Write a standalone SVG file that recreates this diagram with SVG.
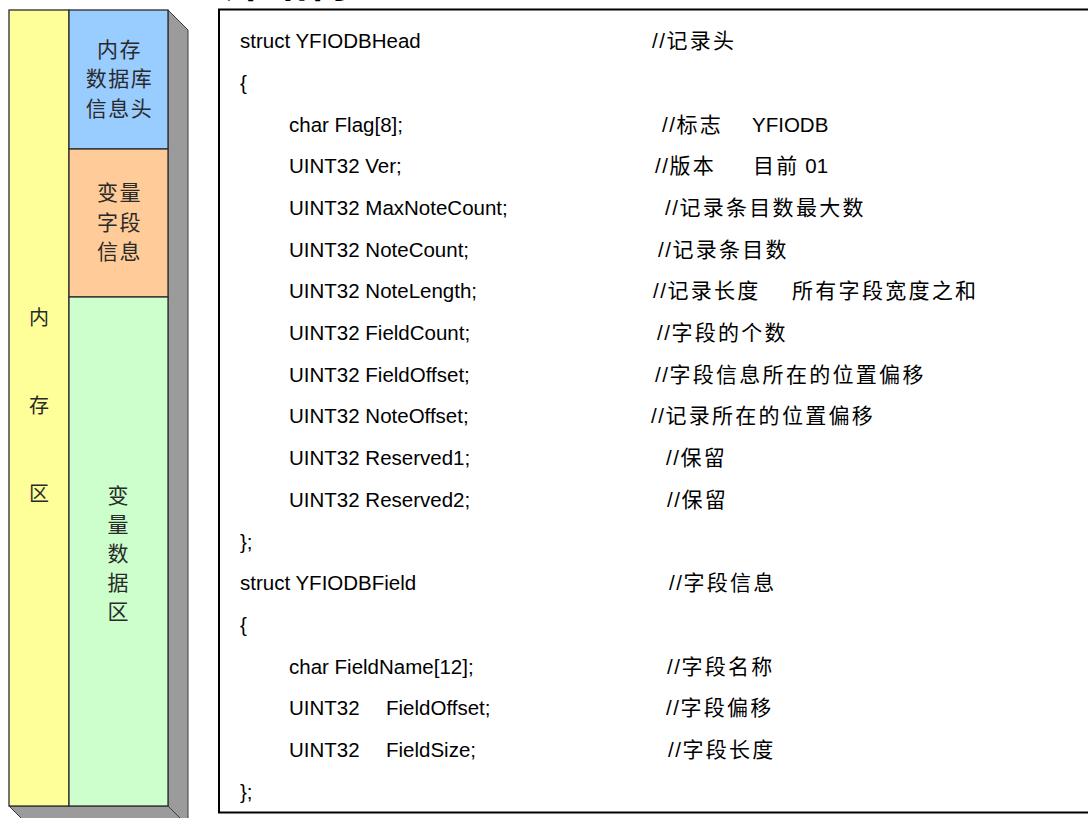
<svg xmlns="http://www.w3.org/2000/svg" width="1088" height="818" viewBox="0 0 1088 818">
<style>
.box{stroke:#2b2b2b;stroke-width:1.3}
.shade{fill:#9b9b9b;stroke:#3a3a3a;stroke-width:1}
.lt{font-family:"Noto Sans CJK SC","Noto Sans CJK JP",sans-serif;fill:#2a2a2a;text-anchor:middle}
.code{font-family:"Liberation Sans",Arial,sans-serif;font-size:20.5px;fill:#000}
.cm{font-family:"Noto Sans CJK SC","Noto Sans CJK JP",sans-serif;font-size:21px;letter-spacing:2.3px;fill:#000}
.sl{font-family:"Liberation Sans",Arial,sans-serif;font-size:20.5px;letter-spacing:1.5px}
.lat{font-family:"Liberation Sans",Arial,sans-serif;font-size:20.5px;letter-spacing:0}
</style>
<rect width="1088" height="818" fill="#ffffff"/>
<text x="224" y="-3" font-family="'Noto Sans CJK SC',sans-serif" font-weight="bold" font-size="42" fill="#000">库结构</text>
<g id="memory-column">
  <polygon class="shade" points="168,10 188,30 188,830 168,810"/>
  <polygon class="shade" points="9,806 168,806 188,826 29,826"/>
  <g id="memory-area">
    <rect class="box" x="9" y="10" width="60" height="796" fill="#FFFF99"/>
    <text class="lt" font-size="20" x="39" y="325">内</text>
    <text class="lt" font-size="20" x="39" y="413">存</text>
    <text class="lt" font-size="20" x="39" y="501">区</text>
  </g>
  <g id="db-header">
    <rect class="box" x="69" y="10" width="99" height="139" fill="#99CCFF"/>
    <text class="lt" font-size="21" letter-spacing="1.5" x="119.5" y="57">内存</text>
    <text class="lt" font-size="21" letter-spacing="1.5" x="119.5" y="86">数据库</text>
    <text class="lt" font-size="21" letter-spacing="1.5" x="119.5" y="116">信息头</text>
  </g>
  <g id="field-info">
    <rect class="box" x="69" y="149" width="99" height="148" fill="#FFCC99"/>
    <text class="lt" font-size="21" letter-spacing="1.5" x="119.5" y="200">变量</text>
    <text class="lt" font-size="21" letter-spacing="1.5" x="119.5" y="230">字段</text>
    <text class="lt" font-size="21" letter-spacing="1.5" x="119.5" y="259">信息</text>
  </g>
  <g id="data-area">
    <rect class="box" x="69" y="297" width="99" height="509" fill="#CCFFCC"/>
    <text class="lt" font-size="21" x="118" y="503">变</text>
    <text class="lt" font-size="21" x="118" y="532">量</text>
    <text class="lt" font-size="21" x="118" y="561">数</text>
    <text class="lt" font-size="21" x="118" y="590">据</text>
    <text class="lt" font-size="21" x="118" y="619">区</text>
  </g>
</g>
<g id="code-box">
  <rect x="219" y="9.5" width="900" height="803" fill="#ffffff" stroke="#000" stroke-width="2"/>
  <text class="code" x="240" y="48">struct YFIODBHead</text>
  <text class="cm" x="652" y="48"><tspan class="sl">//</tspan>记录头</text>
  <text class="code" x="240" y="90">{</text>
  <text class="code" x="289" y="131.5">char Flag[8];</text>
  <text class="cm" x="662" y="131.5"><tspan class="sl">//</tspan>标志</text>
  <text class="code" x="752" y="131.5">YFIODB</text>
  <text class="code" x="289" y="173">UINT32 Ver;</text>
  <text class="cm" x="655" y="173"><tspan class="sl">//</tspan>版本</text>
  <text class="cm" x="753" y="173">目前<tspan class="lat"> 01</tspan></text>
  <text class="code" x="289" y="215">UINT32 MaxNoteCount;</text>
  <text class="cm" x="665" y="215"><tspan class="sl">//</tspan>记录条目数最大数</text>
  <text class="code" x="289" y="256.5">UINT32 NoteCount;</text>
  <text class="cm" x="658" y="256.5"><tspan class="sl">//</tspan>记录条目数</text>
  <text class="code" x="289" y="298">UINT32 NoteLength;</text>
  <text class="cm" x="653" y="298"><tspan class="sl">//</tspan>记录长度</text>
  <text class="cm" x="792" y="298">所有字段宽度之和</text>
  <text class="code" x="289" y="340">UINT32 FieldCount;</text>
  <text class="cm" x="657" y="340"><tspan class="sl">//</tspan>字段的个数</text>
  <text class="code" x="289" y="381.5">UINT32 FieldOffset;</text>
  <text class="cm" x="655" y="381.5"><tspan class="sl">//</tspan>字段信息所在的位置偏移</text>
  <text class="code" x="289" y="423">UINT32 NoteOffset;</text>
  <text class="cm" x="651" y="423"><tspan class="sl">//</tspan>记录所在的位置偏移</text>
  <text class="code" x="289" y="465">UINT32 Reserved1;</text>
  <text class="cm" x="666" y="465"><tspan class="sl">//</tspan>保留</text>
  <text class="code" x="289" y="506.5">UINT32 Reserved2;</text>
  <text class="cm" x="667" y="506.5"><tspan class="sl">//</tspan>保留</text>
  <text class="code" x="240" y="548.5">};</text>
  <text class="code" x="240" y="590">struct YFIODBField</text>
  <text class="cm" x="669" y="590"><tspan class="sl">//</tspan>字段信息</text>
  <text class="code" x="240" y="632">{</text>
  <text class="code" x="289" y="673.5">char FieldName[12];</text>
  <text class="cm" x="667" y="673.5"><tspan class="sl">//</tspan>字段名称</text>
  <text class="code" x="289" y="715">UINT32</text>
  <text class="code" x="386" y="715">FieldOffset;</text>
  <text class="cm" x="666" y="715"><tspan class="sl">//</tspan>字段偏移</text>
  <text class="code" x="289" y="757">UINT32</text>
  <text class="code" x="386" y="757">FieldSize;</text>
  <text class="cm" x="668" y="757"><tspan class="sl">//</tspan>字段长度</text>
  <text class="code" x="240" y="798.5">};</text>
</g>
</svg>
